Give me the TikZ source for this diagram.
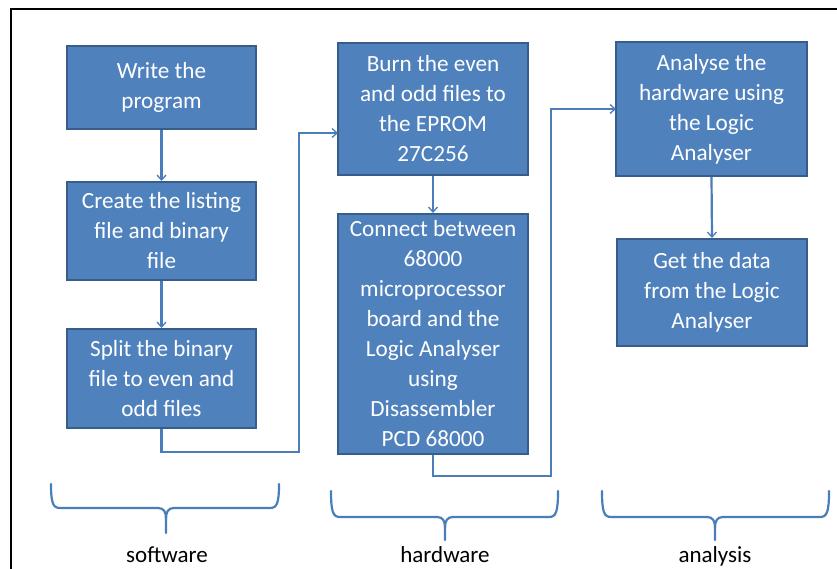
\documentclass[tikz,border=0pt]{standalone}
\usepackage{fontspec}
\setmainfont{Carlito}
\usetikzlibrary{arrows.meta}
\definecolor{boxfill}{HTML}{4F81BD}
\definecolor{boxedge}{HTML}{385D8A}
\definecolor{linkblue}{HTML}{4A7EBB}
\newcommand\stepfont{\fontsize{23.2}{30}\selectfont}
\newcommand\groupfont{\fontsize{23}{27}\selectfont}
\tikzset{
  stepbox/.style={draw=boxedge, line width=2pt, fill=boxfill, text=white,
    align=center, inner sep=0pt, font=\stepfont},
  link/.style={draw=linkblue, line width=2.2pt,
    -{Straight Barb[length=5pt,width=9pt,line width=1.3pt]}},
  bracket/.style={draw=linkblue, line width=2.2pt, line cap=round},
  grouplabel/.style={font=\groupfont, text=black, inner sep=0pt}
}
\begin{document}
\begin{tikzpicture}[x=1pt,y=-1pt]
\useasboundingbox (0,0) rectangle (837,569);
\fill[white] (0,0) rectangle (837,569);
% outer frame (runs off the right and bottom edges)
\draw[black, line width=2pt] (11,9) rectangle (850,580);

% software column
\node[stepbox, minimum width=189pt, minimum height=83pt] (write) at (161.5,87.5)
  {Write the\\program};
\node[stepbox, minimum width=189pt, minimum height=98pt] (listing) at (161.5,231)
  {Create the listing\\file and binary\\file};
\node[stepbox, minimum width=189pt, minimum height=99pt] (split) at (161.5,378.5)
  {Split the binary\\file to even and\\odd files};

% hardware column
\node[stepbox, minimum width=190pt, minimum height=132pt] (burn) at (433,109)
  {Burn the even\\and odd files to\\the EPROM\\27C256};
\node[stepbox, minimum width=190pt, minimum height=240pt] (connect) at (433,334)
  {Connect between\\68000\\microprocessor\\board and the\\Logic Analyser\\using\\Disassembler\\PCD 68000};

% analysis column
\node[stepbox, minimum width=191pt, minimum height=134pt] (analyse) at (711.5,109)
  {Analyse the\\hardware using\\the Logic\\Analyser};
\node[stepbox, minimum width=190pt, minimum height=107pt] (getdata) at (712,292.5)
  {Get the data\\from the Logic\\Analyser};

% connectors
\draw[link] (write.south) -- (listing.north);
\draw[link] (listing.south) -- (split.north);
\draw[link] (burn.south) -- (connect.north);
\draw[link] (analyse.south) -- (getdata.north);

\coordinate (r1) at (299,452);
\coordinate (in4) at (338,133);
\draw[link] (split.south) |- (r1) -- (r1 |- in4) -- (in4);

\coordinate (r2) at (551,476);
\coordinate (in6) at (616,109);
\draw[link] (connect.south) |- (r2) -- (r2 |- in6) -- (in6);

% group brackets
\draw[bracket] (51,484) .. controls (51,503) and (53,508) .. (60,508) -- (158,508)
  .. controls (164,508) and (166,512) .. (166,519) -- (166,533);
\draw[bracket] (279,484) .. controls (279,503) and (277,508) .. (270,508) -- (174,508)
  .. controls (168,508) and (166,512) .. (166,519);

\draw[bracket] (331,491) .. controls (331,512) and (333,517) .. (340,517) -- (437,517)
  .. controls (443,517) and (445,521) .. (445,528) -- (445,540);
\draw[bracket] (558,491) .. controls (558,512) and (556,517) .. (549,517) -- (453,517)
  .. controls (447,517) and (445,521) .. (445,528);

\draw[bracket] (602,491) .. controls (602,512) and (604,517) .. (611,517) -- (707,517)
  .. controls (713,517) and (715,521) .. (715,528) -- (715,540);
\draw[bracket] (829,491) .. controls (829,512) and (827,517) .. (820,517) -- (723,517)
  .. controls (717,517) and (715,521) .. (715,528);

\node[grouplabel, anchor=base] (swlabel) at (167,562) {software};
\node[grouplabel, anchor=base] (hwlabel) at (445,562) {hardware};
\node[grouplabel, anchor=base] (anlabel) at (715,562) {analysis};
\end{tikzpicture}
\end{document}
